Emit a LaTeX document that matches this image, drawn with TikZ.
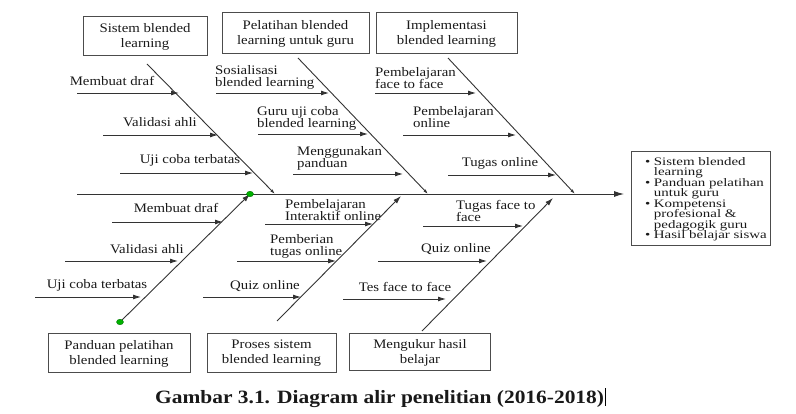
\documentclass[tikz,border=0pt]{standalone}
\usepackage{fontspec}
\setmainfont{Liberation Serif}[FakeStretch=1.14]
\newfontfamily\listfont{Liberation Serif}[FakeStretch=1.3]
\usetikzlibrary{arrows.meta,shapes.geometric}
\newcommand{\bul}{\textbullet\hspace{3.5pt}}
\newcommand{\bulsp}{\hphantom{\textbullet}\hspace{3.5pt}}
\newcommand{\tightlines}{\lineskiplimit=-20pt\relax\lineskip=0pt\relax}
\begin{document}
\begin{tikzpicture}[x=1pt,y=-1pt,
  lbl/.style={inner sep=0pt, font=\fontsize{13}{12}\selectfont, text=black!90},
  lbll/.style={lbl, align=left, anchor=west},
  catbox/.style={draw=black!70, line width=1pt, align=center, inner sep=0pt,
    font=\fontsize{13}{15}\selectfont, text=black!90},
  bone/.style={line width=0.9pt, draw=black!80},
  sub/.style={line width=0.9pt, draw=black!80, -{Latex[length=8pt,width=5pt]}},
  bonetip/.style={bone, -{Latex[length=5pt,width=3pt]}},
  bonetipb/.style={bone, -{Latex[length=8pt,width=5pt]}},
  gdot/.style={ellipse, draw=green!45!black, fill=green!70!black, minimum width=7pt, minimum height=5.5pt, inner sep=0pt}
]
\useasboundingbox (0,0) rectangle (796,414);
% spine
\coordinate (sp0) at (77,194);
\coordinate (sp1) at (624,194);
\draw[line width=0.9pt, draw=black!80, -{Latex[length=10pt,width=6pt]}] (sp0) -- (sp1);

% top boxes
\node[catbox, minimum width=124pt, minimum height=39pt] (c1) at (145,36.5) {Sistem blended\\learning};
\node[catbox, minimum width=147pt, minimum height=41pt] (c2) at (295.5,33.5) {Pelatihan blended\\learning untuk guru};
\node[catbox, minimum width=141pt, minimum height=41pt] (c3) at (446.5,33.5) {Implementasi\\blended learning};
% bottom boxes
\node[catbox, minimum width=142pt, minimum height=39pt] (c4) at (119,353.5) {Panduan pelatihan\\blended learning};
\node[catbox, minimum width=129pt, minimum height=39pt] (c5) at (271.5,353.5) {Proses sistem\\blended learning};
\node[catbox, minimum width=141pt, minimum height=37pt] (c6) at (420,352.5) {Mengukur hasil\\belajar};

% result box
\node[draw=black!70, line width=1pt, minimum width=139pt, minimum height=94pt, inner sep=0pt] (res) at (700.5,199) {};
\node[inner sep=0pt, anchor=north west, align=left, text=black!90,
      font=\listfont\fontsize{11.5}{10.5}\selectfont\tightlines] (reslist) at (645,157)
 {\bul Sistem blended\\
  \bulsp learning\\
  \bul Panduan pelatihan\\
  \bulsp untuk guru\\
  \bul Kompetensi\\
  \bulsp profesional \&\\
  \bulsp pedagogik guru\\
  \bul Hasil belajar siswa};

% top bones
\coordinate (b1s) at (147,64);  \coordinate (b1e) at (275,194);
\coordinate (b2s) at (298,58);  \coordinate (b2e) at (428,194);
\coordinate (b3s) at (448,58);  \coordinate (b3e) at (575,194);
\draw[bonetip] (b1s) -- (b1e);
\draw[bonetip] (b2s) -- (b2e);
\draw[bonetip] (b3s) -- (b3e);
% bottom bones
\coordinate (b4s) at (120,322); \coordinate (b4e) at (250,194);
\coordinate (b5s) at (277,321); \coordinate (b5e) at (401,196);
\coordinate (b6s) at (422,331); \coordinate (b6e) at (553,198);
\draw[bonetipb] (b4s) -- (b4e);
\draw[bonetipb] (b5s) -- (b5e);
\draw[bonetipb] (b6s) -- (b6e);
\node[gdot] (g1) at (b4e) {};
\node[gdot] (g2) at (b4s) {};

% sub-causes bone 1
\coordinate (a11) at (77,93);  \coordinate (e11) at (179,93);
\coordinate (a12) at (103,135);\coordinate (e12) at (218,135);
\coordinate (a13) at (120,173);\coordinate (e13) at (253,173);
\draw[sub] (a11) -- (e11); \draw[sub] (a12) -- (e12); \draw[sub] (a13) -- (e13);
\node[lbl] (t11) at (112,81) {Membuat draf};
\node[lbl] (t12) at (160,122) {Validasi ahli};
\node[lbl] (t13) at (190,160) {Uji coba terbatas};

% sub-causes bone 2
\coordinate (a21) at (216,93);  \coordinate (e21) at (329,93);
\coordinate (a22) at (258,134); \coordinate (e22) at (368,134);
\coordinate (a23) at (293,174); \coordinate (e23) at (403,174);
\draw[sub] (a21) -- (e21); \draw[sub] (a22) -- (e22); \draw[sub] (a23) -- (e23);
\node[lbll] (t21) at (215,77) {Sosialisasi\\blended learning};
\node[lbll] (t22) at (257,118) {Guru uji coba\\blended learning};
\node[lbll] (t23) at (297,158) {Menggunakan\\panduan};

% sub-causes bone 3
\coordinate (a31) at (375,93);  \coordinate (e31) at (476,93);
\coordinate (a32) at (403,135); \coordinate (e32) at (516,135);
\coordinate (a33) at (448,175); \coordinate (e33) at (556,175);
\draw[sub] (a31) -- (e31); \draw[sub] (a32) -- (e32); \draw[sub] (a33) -- (e33);
\node[lbll] (t31) at (375,78) {Pembelajaran\\face to face};
\node[lbll] (t32) at (413,117) {Pembelajaran\\online};
\node[lbl] (t33) at (500,163) {Tugas online};

% sub-causes bone 4
\coordinate (a41) at (112,222); \coordinate (e41) at (223,222);
\coordinate (a42) at (65,261);  \coordinate (e42) at (178,261);
\coordinate (a43) at (35,297);  \coordinate (e43) at (141,297);
\draw[sub] (a41) -- (e41); \draw[sub] (a42) -- (e42); \draw[sub] (a43) -- (e43);
\node[lbl] (t41) at (176,208) {Membuat draf};
\node[lbl] (t42) at (147,249) {Validasi ahli};
\node[lbl] (t43) at (97,285) {Uji coba terbatas};

% sub-causes bone 5
\coordinate (a51) at (265,224); \coordinate (e51) at (373,224);
\coordinate (a52) at (237,261); \coordinate (e52) at (336,261);
\coordinate (a53) at (203,297); \coordinate (e53) at (301,297);
\draw[sub] (a51) -- (e51); \draw[sub] (a52) -- (e52); \draw[sub] (a53) -- (e53);
\node[lbll] (t51) at (285,210) {Pembelajaran\\Interaktif online};
\node[lbll] (t52) at (270,246) {Pemberian\\tugas online};
\node[lbl] (t53) at (265,286) {Quiz online};

% sub-causes bone 6
\coordinate (a61) at (423,226); \coordinate (e61) at (523,226);
\coordinate (a62) at (378,261); \coordinate (e62) at (487,261);
\coordinate (a63) at (343,299); \coordinate (e63) at (446,299);
\draw[sub] (a61) -- (e61); \draw[sub] (a62) -- (e62); \draw[sub] (a63) -- (e63);
\node[lbll] (t61) at (456,211) {Tugas face to\\face};
\node[lbl] (t62) at (456,249) {Quiz online};
\node[lbl] (t63) at (405,287) {Tes face to face};

% caption
\node[inner sep=0pt, anchor=base west, font=\fontsize{18.8}{20}\selectfont\bfseries, text=black!90] (cap) at (155,403)
  {Gambar 3.1. Diagram alir penelitian (2016-2018)};
\coordinate (cur0) at ([xshift=1.5pt]cap.east |- 0,388);
\coordinate (cur1) at ([xshift=1.5pt]cap.east |- 0,406);
\draw[line width=0.8pt] (cur0) -- (cur1);
\end{tikzpicture}
\end{document}
